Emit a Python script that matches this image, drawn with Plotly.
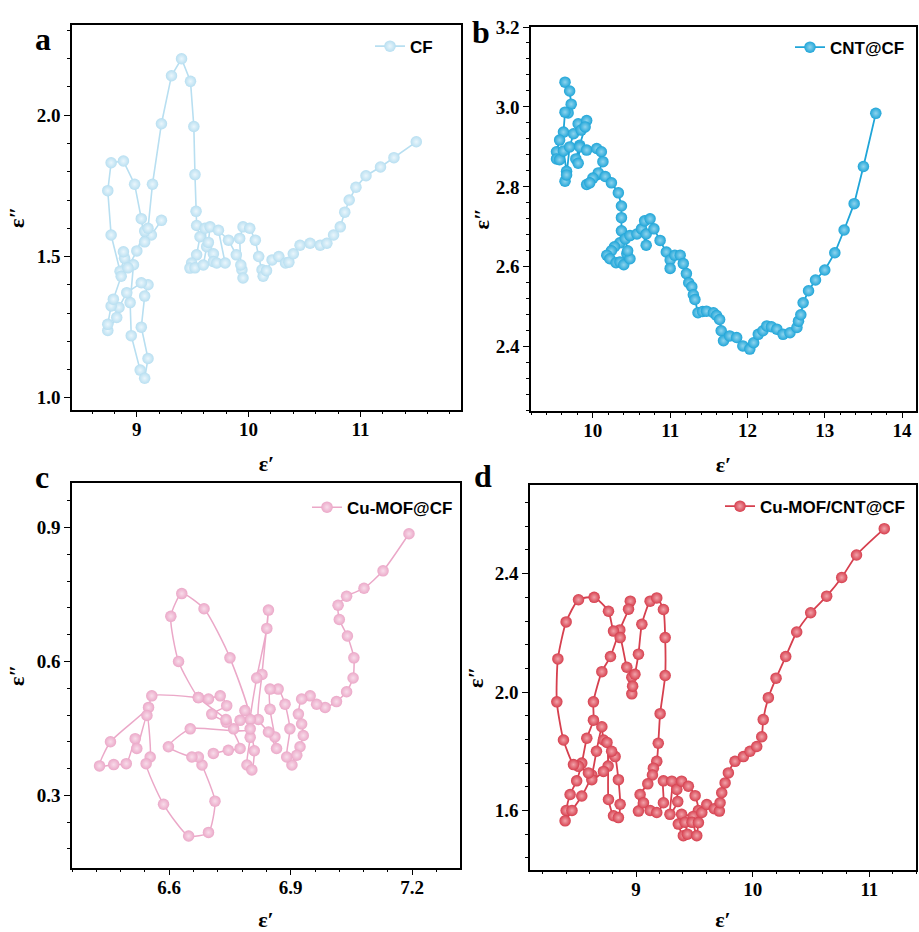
import plotly.graph_objects as go

# ---------------- data ----------------
cf_x = [9.22, 9.13, 9.07, 9.04, 8.98, 8.88, 8.77, 8.74, 8.77, 8.85, 8.89, 8.88, 8.97, 8.94, 8.95, 9.03, 9.07, 9.10,
        9.04, 9.07, 9.10, 9.04, 8.91, 8.84, 8.82, 8.74, 8.74, 8.77, 8.79, 8.86, 8.92, 9.00, 9.07, 9.10, 9.14, 9.22,
        9.31, 9.40, 9.48, 9.51, 9.52, 9.53, 9.535, 9.565, 9.535, 9.49, 9.475, 9.52, 9.595, 9.625, 9.61, 9.655, 9.64,
        9.685, 9.685, 9.715, 9.79, 9.73, 9.82, 9.89, 9.94, 9.95, 9.93, 9.92, 9.95, 10.01, 10.06, 10.09, 10.12, 10.13,
        10.16, 10.21, 10.27, 10.33, 10.36, 10.40, 10.46, 10.55, 10.64, 10.70, 10.76, 10.82, 10.86, 10.90, 10.96,
        11.05, 11.18, 11.30, 11.50]
cf_y = [1.628, 1.576, 1.552, 1.634, 1.756, 1.838, 1.832, 1.733, 1.576, 1.448, 1.494, 1.517, 1.471, 1.337, 1.22,
        1.098, 1.069, 1.139, 1.25, 1.36, 1.40, 1.407, 1.372, 1.32, 1.284, 1.238, 1.26, 1.325, 1.349, 1.43, 1.46,
        1.52, 1.59, 1.60, 1.756, 1.97, 2.14, 2.20, 2.12, 1.96, 1.79, 1.66, 1.61, 1.57, 1.506, 1.477, 1.459, 1.46,
        1.47, 1.535, 1.60, 1.605, 1.55, 1.51, 1.482, 1.477, 1.477, 1.593, 1.558, 1.506, 1.453, 1.424, 1.47, 1.564,
        1.605, 1.60, 1.558, 1.50, 1.453, 1.43, 1.45, 1.488, 1.50, 1.477, 1.48, 1.51, 1.54, 1.547, 1.54, 1.547,
        1.576, 1.605, 1.657, 1.70, 1.745, 1.786, 1.817, 1.85, 1.906]

cnt_x = [9.64, 9.70, 9.72, 9.68, 9.64, 9.62, 9.57, 9.53, 9.53, 9.57, 9.62, 9.66, 9.64, 9.66, 9.70, 9.75, 9.81,
         9.85, 9.92, 9.90, 9.83, 9.78, 9.81, 9.83, 9.92, 10.05, 10.11, 10.13, 10.07, 10.00, 9.92, 9.96, 10.16,
         10.24, 10.33, 10.37, 10.37, 10.37, 10.35, 10.28, 10.24, 10.18, 10.22, 10.30, 10.35, 10.40, 10.44, 10.48,
         10.45, 10.42, 10.48, 10.57, 10.63, 10.69, 10.69, 10.67, 10.74, 10.79, 10.87, 10.95, 11.00, 11.00, 11.06,
         11.13, 11.17, 11.21, 11.24, 11.28, 11.30, 11.32, 11.36, 11.42, 11.47, 11.56, 11.60, 11.64, 11.66, 11.69,
         11.77, 11.86, 11.94, 12.03, 12.08, 12.14, 12.20, 12.25, 12.31, 12.38, 12.46, 12.55, 12.64, 12.66, 12.69,
         12.72, 12.79, 12.88, 13.00, 13.13, 13.25, 13.38, 13.50, 13.66]
cnt_y = [3.062, 3.04, 3.007, 2.985, 2.987, 2.937, 2.917, 2.888, 2.87, 2.868, 2.89, 2.839, 2.814, 2.83, 2.90,
         2.933, 2.958, 2.942, 2.966, 2.95, 2.904, 2.87, 2.859, 2.90, 2.892, 2.896, 2.888, 2.863, 2.835, 2.822,
         2.806, 2.81, 2.826, 2.81, 2.785, 2.752, 2.723, 2.69, 2.66, 2.65, 2.64, 2.629, 2.62, 2.61, 2.612, 2.605,
         2.633, 2.62, 2.64, 2.67, 2.678, 2.682, 2.695, 2.654, 2.682, 2.715, 2.72, 2.695, 2.666, 2.637, 2.617,
         2.596, 2.629, 2.629, 2.608, 2.583, 2.56, 2.55, 2.53, 2.518, 2.485, 2.488, 2.489, 2.485, 2.478, 2.468,
         2.44, 2.415, 2.427, 2.423, 2.402, 2.394, 2.41, 2.431, 2.44, 2.452, 2.45, 2.444, 2.431, 2.435, 2.448,
         2.464, 2.48, 2.51, 2.54, 2.567, 2.592, 2.635, 2.692, 2.758, 2.851, 2.984]

mof_x = [7.192, 7.128, 7.081, 7.038, 7.017, 7.02, 7.04, 7.056, 7.054, 7.038, 7.013, 6.985, 6.964, 6.948, 6.927,
         6.919, 6.927, 6.931, 6.923, 6.915, 6.903, 6.89, 6.898, 6.886, 6.869, 6.849, 6.849, 6.861, 6.865, 6.845,
         6.82, 6.829, 6.845, 6.841, 6.816, 6.80, 6.80, 6.792, 6.804, 6.81, 6.787, 6.775, 6.759, 6.741, 6.705,
         6.742, 6.726, 6.697, 6.672, 6.557, 6.549, 6.455, 6.428, 6.463, 6.494, 6.516, 6.52, 6.545, 6.553, 6.543,
         6.586, 6.648, 6.697, 6.713, 6.681, 6.672, 6.656, 6.598, 6.652, 6.80, 6.75, 6.686, 6.631, 6.604, 6.623,
         6.672, 6.74, 6.775, 6.746, 6.709]
mof_y = [0.886, 0.803, 0.764, 0.746, 0.726, 0.694, 0.657, 0.608, 0.563, 0.532, 0.51, 0.497, 0.504, 0.523, 0.516,
         0.482, 0.46, 0.434, 0.409, 0.39, 0.368, 0.386, 0.449, 0.504, 0.538, 0.538, 0.493, 0.431, 0.405, 0.442,
         0.47, 0.571, 0.715, 0.674, 0.563, 0.47, 0.43, 0.368, 0.357, 0.40, 0.49, 0.468, 0.449, 0.464, 0.482,
         0.501, 0.523, 0.516, 0.519, 0.523, 0.497, 0.42, 0.366, 0.369, 0.371, 0.427, 0.405, 0.479, 0.386, 0.371,
         0.28, 0.209, 0.217, 0.287, 0.368, 0.386, 0.386, 0.409, 0.449, 0.449, 0.608, 0.718, 0.752, 0.701, 0.60,
         0.519, 0.47, 0.405, 0.401, 0.394]

mofcnt_x = [8.95, 8.935, 8.86, 8.78, 8.706, 8.634, 8.634, 8.577, 8.534, 8.49, 8.434, 8.40, 8.391, 8.45, 8.534,
            8.62, 8.66, 8.706, 8.72, 8.75, 8.76, 8.763, 8.806, 8.848, 8.863, 8.848, 8.82, 8.79, 8.72, 8.62, 8.591,
            8.506, 8.463, 8.377, 8.32, 8.329, 8.40, 8.506, 8.64, 8.763, 8.806, 8.863, 8.92, 8.963, 8.963, 8.97,
            8.99, 9.02, 9.049, 9.12, 9.177, 9.234, 9.249, 9.249, 9.206, 9.19, 9.177, 9.148, 9.14, 9.10, 9.034,
            9.02, 9.063, 9.12, 9.177, 9.234, 9.234, 9.306, 9.29, 9.357, 9.349, 9.39, 9.448, 9.506, 9.534, 9.49,
            9.39, 9.362, 9.405, 9.44, 9.42, 9.48, 9.52, 9.534, 9.563, 9.606, 9.67, 9.714, 9.72, 9.734, 9.763,
            9.791, 9.848, 9.92, 9.977, 10.034, 10.077, 10.09, 10.134, 10.20, 10.283, 10.377, 10.497, 10.634,
            10.763, 10.89, 11.128]
mofcnt_y = [2.307, 2.28, 2.21, 2.12, 2.069, 1.967, 1.905, 1.844, 1.76, 1.70, 1.654, 1.60, 1.565, 1.60, 1.649,
            1.72, 1.80, 1.883, 1.838, 1.83, 1.75, 1.637, 1.582, 1.576, 1.621, 1.704, 1.782, 1.80, 1.732, 1.704,
            1.727, 1.749, 1.755, 1.838, 1.967, 2.112, 2.237, 2.312, 2.32, 2.273, 2.206, 2.184, 2.084, 2.05, 1.994,
            2.02, 2.06, 2.128, 2.229, 2.307, 2.318, 2.279, 2.184, 2.056, 1.927, 1.827, 1.766, 1.743, 1.72, 1.69,
            1.654, 1.598, 1.626, 1.60, 1.593, 1.626, 1.70, 1.699, 1.587, 1.63, 1.671, 1.699, 1.682, 1.65, 1.60,
            1.58, 1.587, 1.554, 1.515, 1.52, 1.56, 1.56, 1.515, 1.559, 1.593, 1.62, 1.606, 1.598, 1.626, 1.66,
            1.693, 1.727, 1.766, 1.782, 1.80, 1.816, 1.849, 1.907, 1.981, 2.047, 2.12, 2.203, 2.268, 2.324,
            2.387, 2.463, 2.552]

names = ["CF", "CNT@CF", "Cu-MOF@CF", "Cu-MOF/CNT@CF"]
colors = ["#B8DFF1", "#1FA5D8", "#EBA8C8", "#D63F4E"]
highlights = ["#EAF6FC", "#8FD4EE", "#F8DCEA", "#F2A3AA"]
panel_letters = ["a", "b", "c", "d"]

# ---------------- figure ----------------
W, H = 919, 932
fig = go.Figure()


def fy(Y):
    # pixel row (from top) -> paper fraction
    return 1 - Y / H


series = [(cf_x, cf_y), (cnt_x, cnt_y), (mof_x, mof_y), (mofcnt_x, mofcnt_y)]
shapes = ["linear", "linear", "spline", "spline"]
lwidths = [1.6, 1.8, 1.5, 1.8]
for i, ((xs, ys), name, col) in enumerate(zip(series, names, colors)):
    sfx = "" if i == 0 else str(i + 1)
    fig.add_trace(go.Scatter(
        x=xs, y=ys, mode="lines+markers", name=name,
        xaxis="x" + sfx, yaxis="y" + sfx, legend="legend" + sfx,
        line=dict(color=col, width=lwidths[i], shape=shapes[i], smoothing=0.6),
        marker=dict(size=11.5, color=col, line=dict(width=0),
                    gradient=dict(type="radial", color=highlights[i])),
    ))

# pixel boxes: (left, top, right, bottom)
boxes = [(72, 15, 461, 404), (531, 17, 916, 405), (72, 478, 460, 867), (530, 480, 916, 869)]
xranges = [[8.42, 11.9], [9.2, 14.18], [6.36, 7.318], [8.09, 11.4]]
yranges = [[0.958, 2.32], [2.24, 3.2005], [0.138, 1.0], [1.40, 2.70]]
xdt = [(1, 0.2, 0), (1, 0.2, 0), (0.3, 0.06, 0), (1, 0.2, 0)]
ydt = [(0.5, 0.1, 0), (0.2, 0.04, 0), (0.3, 0.06, 0), (0.4, 0.08, 0)]
xfmt = ["d", "d", ".1f", "d"]
ystand = [6, 0, 6, 5]

tickfont = dict(family="Liberation Serif", size=19, color="black", weight="bold")
titlefont = dict(family="Liberation Serif", size=22, color="black", weight="bold")

layout = dict(width=W, height=H, margin=dict(l=0, r=0, t=0, b=0),
              paper_bgcolor="white", plot_bgcolor="white", showlegend=True)

for i in range(4):
    l, t, r, b = boxes[i]
    sfx = "" if i == 0 else str(i + 1)
    common = dict(showline=True, linecolor="black", linewidth=1.6, mirror=True,
                  ticks="outside", ticklen=6, tickwidth=1.4, tickcolor="black",
                  showgrid=False, zeroline=False, tickfont=tickfont)
    layout["xaxis" + sfx] = dict(
        common, domain=[l / W, r / W], range=xranges[i], anchor="y" + sfx,
        dtick=xdt[i][0], tick0=xdt[i][2], tickformat=xfmt[i], ticklabelstandoff=-4,
        minor=dict(dtick=xdt[i][1], ticks="outside", ticklen=3, tickwidth=1.2, tickcolor="black"),
        title=dict(text="ε′", font=titlefont, standoff=16))
    layout["yaxis" + sfx] = dict(
        common, domain=[fy(b), fy(t)], range=yranges[i], anchor="x" + sfx,
        dtick=ydt[i][0], tick0=ydt[i][2], tickformat=".1f",
        minor=dict(dtick=ydt[i][1], ticks="outside", ticklen=3, tickwidth=1.2, tickcolor="black"),
        title=dict(text="ε″", font=titlefont, standoff=ystand[i]))

legend_pos = [(438, 37), (910, 38), (458, 503), (910, 502)]
for i in range(4):
    key = "legend" if i == 0 else "legend" + str(i + 1)
    lx, ly = legend_pos[i]
    layout[key] = dict(x=lx / W, y=fy(ly), xanchor="right", yanchor="middle",
                       bgcolor="rgba(0,0,0,0)", borderwidth=0,
                       font=dict(family="Liberation Sans", size=17, color="black", weight="bold"))

fig.update_layout(**layout)

letter_pos = [(43, 29), (481, 22), (42, 472), (483, 471)]
for letter, (px, py) in zip(panel_letters, letter_pos):
    fig.add_annotation(text=letter, x=px / W, y=fy(py), xref="paper", yref="paper",
                       xanchor="center", yanchor="middle", showarrow=False,
                       font=dict(family="Liberation Serif", size=32, color="black", weight="bold"))

pin = ("document.body.style.margin='0';document.body.style.overflow='hidden';"
       "var d=document.getElementById('{plot_id}');d.style.position='absolute';"
       "d.style.left='0px';d.style.top='0px';")
fig.write_html("out.html", post_script=pin, config={"displayModeBar": False})
